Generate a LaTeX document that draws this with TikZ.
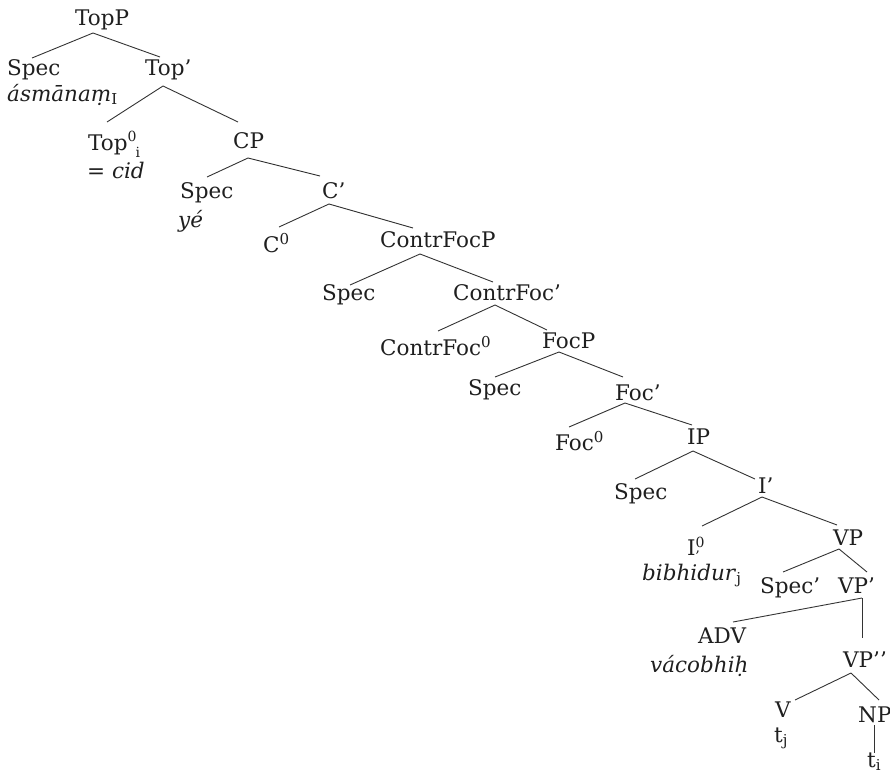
\documentclass[tikz,border=0pt]{standalone}
\usepackage{fontspec}
\usepackage{amsmath}
\setmainfont{DejaVu Serif}
\newcommand\brn[4]{\draw[br] ([shift={(#2)}]#1.base west) -- ([shift={(#4)}]#3.base west);}
\newcommand\smallidx{\fontsize{14}{14}\selectfont}
\begin{document}
\begin{tikzpicture}[x=1pt,y=-1pt,
  lab/.style={anchor=base west, inner sep=0pt, font=\fontsize{21.5}{26}\selectfont, text=black!88},
  br/.style={line width=0.9pt, draw=black!80}]
\useasboundingbox (0,0) rectangle (890,776);
% nodes
\node[lab] (TopP)   at (75,26)  {TopP};
\node[lab] (SpecA)  at (7,75)   {Spec};
\node[lab] (asm)    at (7,101)  {\textit{ásmānaṃ}$_{\text{I}}$};
\node[lab] (TopBar) at (145,75) {Top’};
\node[lab] (Top0)   at (88,150) {Top\rlap{\raisebox{0.4em}{\smallidx 0}}\raisebox{-0.33em}{\hspace{0.37em}\smallidx i}};
\node[lab] (cid)    at (87,178) {= \textit{cid}};
\node[lab] (CP)     at (233,148) {CP};
\node[lab] (SpecB)  at (180,198) {Spec};
\node[lab] (ye)     at (178,227) {\textit{yé}};
\node[lab] (Cbar)   at (322,198) {C’};
\node[lab] (C0)     at (263,252) {C$^{\text{0}}$};
\node[lab] (CFP)    at (380,247) {ContrFocP};
\node[lab] (SpecC)  at (322,300) {Spec};
\node[lab] (CFbar)  at (453,300) {ContrFoc’};
\node[lab] (CF0)    at (380,355) {ContrFoc$^{\text{0}}$};
\node[lab] (FocP)   at (542,348) {FocP};
\node[lab] (SpecD)  at (468,395) {Spec};
\node[lab] (Focbar) at (615,400) {Foc’};
\node[lab] (Foc0)   at (555,450) {Foc$^{\text{0}}$};
\node[lab] (IP)     at (687,444) {IP};
\node[lab] (SpecE)  at (614,499) {Spec};
\node[lab] (Ibar)   at (758,493) {I’};
\node[lab] (I0)     at (687,555) {I\rlap{\raisebox{0.36em}{\smallidx 0}}\raisebox{0.12em}{\smallidx ,}};
\node[lab] (bib)    at (642,580) {\textit{bibhidur}$_{\text{j}}$};
\node[lab] (VP)     at (833,545) {VP};
\node[lab] (SpecF)  at (760,593) {Spec’};
\node[lab] (VPbar)  at (838,593) {VP’};
\node[lab] (ADV)    at (698,643) {ADV};
\node[lab] (vaco)   at (650,672) {\textit{vácobhiḥ}};
\node[lab] (VPbb)   at (843,667) {VP’’};
\node[lab] (V)      at (775,717) {V};
\node[lab] (tj)     at (774,742) {t$_{\text{j}}$};
\node[lab] (NP)     at (858,722) {NP};
\node[lab] (ti)     at (867,767) {t$_{\text{i}}$};
% connectors
\brn{TopP}{18,7}{SpecA}{25,-17}
\brn{TopP}{18,7}{TopBar}{15,-18}
\brn{TopBar}{18,11}{Top0}{19,-28}
\brn{TopBar}{18,11}{CP}{5,-26}
\brn{CP}{15,10}{SpecB}{27,-21}
\brn{CP}{15,10}{Cbar}{-2,-22}
\brn{Cbar}{7,6}{C0}{16,-25}
\brn{Cbar}{7,6}{CFP}{33,-19}
\brn{CFP}{40,7}{SpecC}{28,-15}
\brn{CFP}{40,7}{CFbar}{40,-18}
\brn{CFbar}{42,5}{CF0}{58,-24}
\brn{CFbar}{42,5}{FocP}{5,-18}
\brn{FocP}{17,4}{SpecD}{27,-18}
\brn{FocP}{17,4}{Focbar}{8,-23}
\brn{Focbar}{10,3}{Foc0}{14,-23}
\brn{Focbar}{10,3}{IP}{5,-19}
\brn{IP}{6,7}{SpecE}{21,-20}
\brn{IP}{6,7}{Ibar}{-3,-14}
\brn{Ibar}{4,4}{I0}{15,-29}
\brn{Ibar}{4,4}{VP}{4,-20}
\brn{VP}{6,4}{SpecF}{23,-21}
\brn{VP}{6,4}{VPbar}{29,-21}
\brn{VPbar}{24,5}{ADV}{35,-21}
\brn{VPbar}{24,5}{VPbb}{19,-29}
\brn{VPbb}{8,6}{V}{20,-17}
\brn{VPbb}{8,6}{NP}{21,-22}
\brn{NP}{16,3}{ti}{7,-14}
\end{tikzpicture}
\end{document}
